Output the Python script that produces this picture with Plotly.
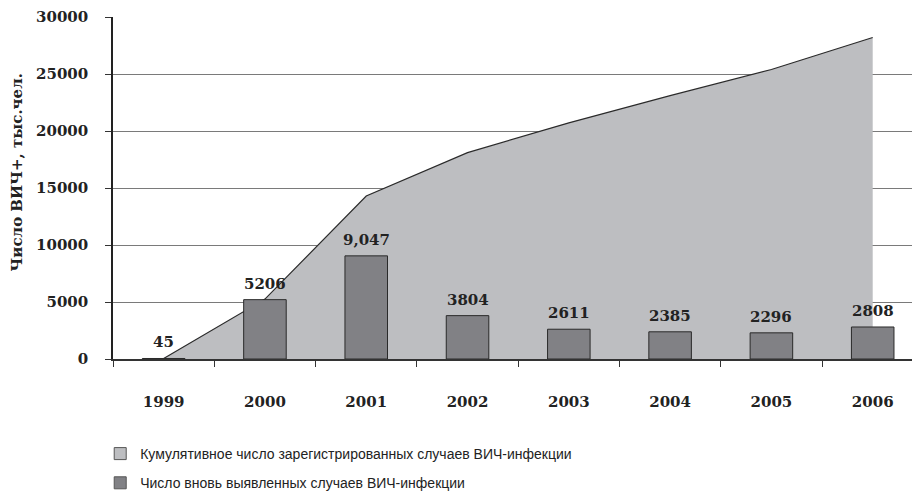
import plotly.graph_objects as go

years = ["1999", "2000", "2001", "2002", "2003", "2004", "2005", "2006"]
cumulative = [45, 5251, 14298, 18102, 20713, 23098, 25394, 28202]
new_cases = [45, 5206, 9047, 3804, 2611, 2385, 2296, 2808]
bar_labels = ["45", "5206", "9,047", "3804", "2611", "2385", "2296", "2808"]
y_ticks = [0, 5000, 10000, 15000, 20000, 25000, 30000]
y_tick_labels = ["0", "5000", "10000", "15000", "20000", "25000", "30000"]
legend_cum = "Кумулятивное число зарегистрированных случаев ВИЧ-инфекции"
legend_new = "Число вновь выявленных случаев ВИЧ-инфекции"
y_title = "Число ВИЧ+, тыс.чел."

SERIF = "DejaVu Serif"
AREA_FILL = "#bdbec1"
BAR_FILL = "#818185"
EDGE = "#2a2a2a"

XR = [-0.5, 7.388]
YR = [0, 30000]

fig = go.Figure()

fig.add_trace(go.Scatter(
    x=years, y=cumulative, mode="lines", fill="tozeroy",
    fillcolor=AREA_FILL, line=dict(color=EDGE, width=1.2),
    showlegend=False, hoverinfo="skip", xaxis="x", yaxis="y"))

fig.add_trace(go.Bar(
    x=years, y=new_cases, width=0.42,
    marker=dict(color=BAR_FILL, line=dict(color=EDGE, width=1)),
    showlegend=False, xaxis="x2", yaxis="y2"))

# legend-only entries
fig.add_trace(go.Bar(x=[None], y=[None], name=legend_cum,
                     marker=dict(color=AREA_FILL, line=dict(color="#555", width=1)),
                     legendgroup="a", xaxis="x2", yaxis="y2"))
fig.add_trace(go.Bar(x=[None], y=[None], name=legend_new,
                     marker=dict(color=BAR_FILL, line=dict(color="#555", width=1)),
                     legendgroup="b", xaxis="x2", yaxis="y2"))

annotations = []
for i, (v, lab) in enumerate(zip(new_cases, bar_labels)):
    annotations.append(dict(x=i, y=v, xref="x", yref="y", text="<b>" + lab + "</b>",
                            showarrow=False, yanchor="bottom", yshift=5,
                            font=dict(family=SERIF, size=15, color="#222")))
annotations.append(dict(x=-0.120, y=0.546, xref="paper", yref="paper",
                        text="<b>" + y_title + "</b>", textangle=-90,
                        showarrow=False, xanchor="center", yanchor="middle",
                        font=dict(family=SERIF, size=15, color="#222")))

fig.update_layout(
    width=912, height=499,
    margin=dict(l=113, r=0, t=17, b=135),
    paper_bgcolor="white", plot_bgcolor="white",
    barmode="overlay",
    font=dict(family=SERIF, color="#222"),
    xaxis=dict(type="category", range=XR, categoryorder="array", categoryarray=years,
               showline=True, linecolor="#333", linewidth=1.5,
               ticks="outside", ticklen=6, tickcolor="#333", tickson="boundaries",
               showgrid=False, ticklabelstandoff=28,
               tickvals=years, ticktext=["<b>" + y + "</b>" for y in years],
               tickfont=dict(family=SERIF, size=15, color="#222")),
    yaxis=dict(range=YR, tickvals=y_ticks, ticktext=["<b>" + t + "</b>" for t in y_tick_labels],
               showgrid=True, gridcolor="#7a7a7a", gridwidth=1.3,
               showline=True, linecolor="#222", linewidth=1.5, zeroline=False,
               ticks="outside", ticklen=6, tickcolor="#333", ticklabelstandoff=14,
               tickfont=dict(family=SERIF, size=15, color="#222")),
    xaxis2=dict(type="category", range=XR, categoryorder="array", categoryarray=years,
                overlaying="x", showgrid=False, showticklabels=False,
                showline=False, ticks="", tickson="boundaries"),
    yaxis2=dict(range=YR, overlaying="y", showgrid=False, showticklabels=False,
                showline=False, zeroline=False, ticks=""),
    legend=dict(x=-0.016, xanchor="left", y=-0.231, yanchor="top",
                orientation="v", traceorder="grouped", tracegroupgap=8,
                font=dict(family="Liberation Sans", size=14, color="#222"),
                bgcolor="rgba(0,0,0,0)"),
    annotations=annotations,
    showlegend=True,
)

fig.write_html("out.html", config={"displayModeBar": False},
               post_script="document.body.style.margin='0';document.body.style.overflow='hidden';")
